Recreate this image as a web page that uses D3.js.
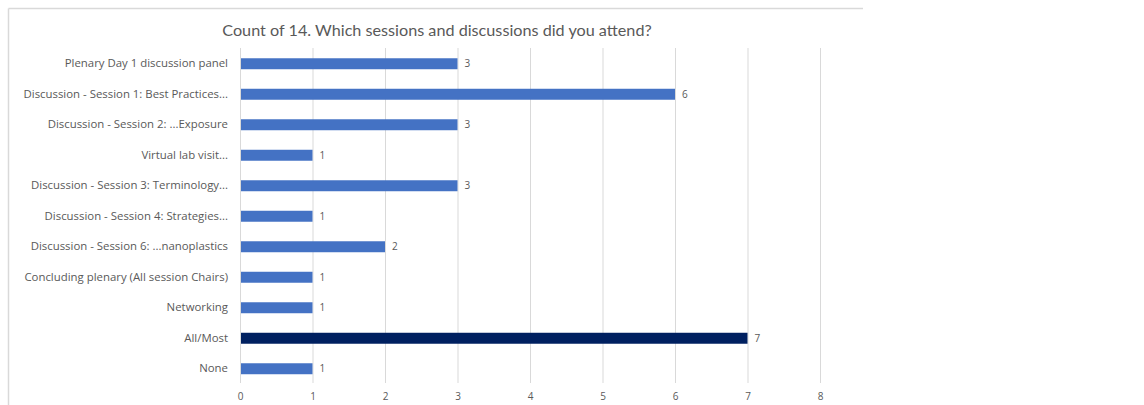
<!DOCTYPE html>
<html>
<head>
<meta charset="utf-8">
<script src="https://cdn.jsdelivr.net/npm/d3@7"></script>
<style>
  html, body { margin: 0; padding: 0; background: #fff; }
  svg { display: block; font-family: Lato, "Open Sans", sans-serif; }
</style>
</head>
<body>
<svg id="chart" width="1144" height="405"></svg>
<script>
// Survey responses: sessions attended
const categories = [
  "Plenary Day 1 discussion panel",
  "Discussion - Session 1: Best Practices...",
  "Discussion - Session 2: ...Exposure",
  "Virtual lab visit...",
  "Discussion - Session 3: Terminology...",
  "Discussion - Session 4: Strategies...",
  "Discussion - Session 6: ...nanoplastics",
  "Concluding plenary (All session Chairs)",
  "Networking",
  "All/Most",
  "None"
];
const counts = [3, 6, 3, 1, 3, 1, 2, 1, 1, 7, 1];
const highlighted = ["All/Most"];
const xTicks = [0, 1, 2, 3, 4, 5, 6, 7, 8];
const title = "Count of 14. Which sessions and discussions did you attend?";

const svg = d3.select("#chart");
const textColor = "#595959";

// Chart frame (top and left edges)
svg.append("line").attr("x1", 8.5).attr("x2", 863).attr("y1", 8.5).attr("y2", 8.5)
  .attr("stroke", "#d9d9d9").attr("stroke-width", 1.5);
svg.append("line").attr("x1", 8.5).attr("x2", 8.5).attr("y1", 8.5).attr("y2", 405)
  .attr("stroke", "#d9d9d9").attr("stroke-width", 1.5);

const x = d3.scaleLinear().domain([0, 8]).range([240, 820]);
const y = d3.scaleBand().domain(categories)
  .range([48.5, 384]).paddingInner(0.64).paddingOuter(0.32);

// Vertical gridlines
svg.append("g").selectAll("line").data(xTicks).join("line")
  .attr("x1", d => x(d) + 0.5).attr("x2", d => x(d) + 0.5)
  .attr("y1", 48).attr("y2", 383)
  .attr("stroke", "#d9d9d9").attr("stroke-width", 1);

// X axis tick labels
const xAxis = d3.axisBottom(x).tickValues(xTicks).tickSize(0).tickPadding(0);
const gx = svg.append("g").attr("transform", "translate(0,393)").call(xAxis);
gx.select(".domain").remove();
gx.selectAll("text").attr("fill", textColor).attr("font-size", 10)
  .attr("font-family", "'Open Sans', sans-serif").attr("dy", "0.71em");

// Y axis category labels
const yAxis = d3.axisLeft(y).tickSize(0).tickPadding(0);
const gy = svg.append("g").attr("transform", "translate(228,0)").call(yAxis);
gy.select(".domain").remove();
gy.selectAll("text").attr("fill", textColor).attr("font-size", 11.4)
  .attr("font-family", "'Open Sans', sans-serif");

// Bars
svg.append("g").selectAll("rect").data(categories).join("rect")
  .attr("x", x(0) + 1)
  .attr("y", d => y(d))
  .attr("width", (d, i) => x(counts[i]) - x(0) - 1)
  .attr("height", y.bandwidth())
  .attr("fill", d => highlighted.includes(d) ? "#002060" : "#4472c4");

// Value labels
svg.append("g").selectAll("text").data(categories).join("text")
  .attr("x", (d, i) => x(counts[i]) + 7)
  .attr("y", d => y(d) + y.bandwidth() / 2)
  .attr("dy", "0.35em")
  .attr("fill", textColor).attr("font-size", 10)
  .attr("font-family", "'Open Sans', sans-serif")
  .text((d, i) => counts[i]);

// Title
svg.append("text")
  .attr("x", 437).attr("y", 36)
  .attr("text-anchor", "middle")
  .attr("fill", textColor)
  .attr("font-size", 16.2)
  .text(title);
</script>
</body>
</html>
